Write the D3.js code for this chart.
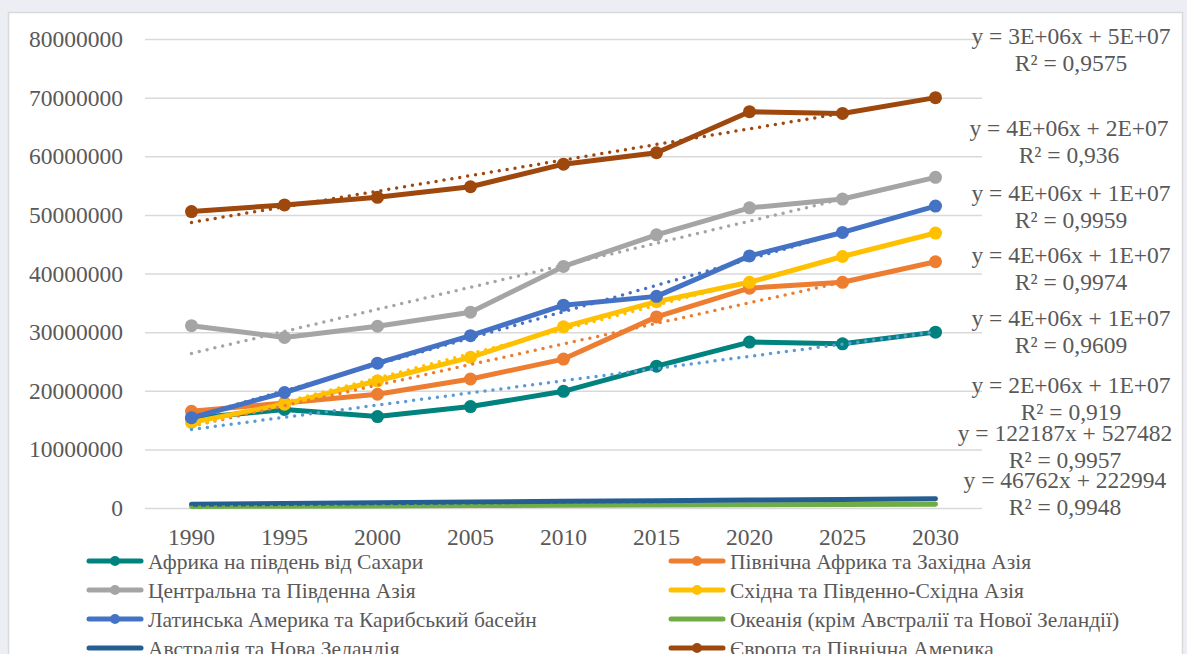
<!DOCTYPE html>
<html>
<head>
<meta charset="utf-8">
<script src="https://cdnjs.cloudflare.com/ajax/libs/d3/7.8.5/d3.min.js"></script>
<style>
  body { margin: 0; background: #eceef3; }
</style>
</head>
<body>
<script>
//Data
var years = ["1990", "1995", "2000", "2005", "2010", "2015", "2020", "2025", "2030"];

var seriesNames = [
  "Африка на південь від Сахари",
  "Північна Африка та Західна Азія",
  "Центральна та Південна Азія",
  "Східна та Південно-Східна Азія",
  "Латинська Америка та Карибський басейн",
  "Океанія (крім Австралії та Нової Зеландії)",
  "Австралія та Нова Зеландія",
  "Європа та Північна Америка"
];

var subSaharan   = [15300000, 16800000, 15600000, 17300000, 19900000, 24200000, 28300000, 28000000, 30000000];
var northAfrica  = [16500000, 17900000, 19400000, 22000000, 25400000, 32600000, 37500000, 38500000, 42000000];
var centralAsia  = [31100000, 29100000, 31000000, 33400000, 41200000, 46600000, 51200000, 52700000, 56400000];
var eastAsia     = [14600000, 17700000, 21700000, 25700000, 30900000, 35200000, 38500000, 42900000, 46900000];
var latinAmerica = [15400000, 19700000, 24700000, 29400000, 34600000, 36100000, 43000000, 47000000, 51500000];
var oceania      = [270000, 310000, 360000, 410000, 460000, 500000, 550000, 600000, 650000];
var australiaNZ  = [660000, 760000, 880000, 1020000, 1140000, 1240000, 1360000, 1470000, 1580000];
var europe       = [50560000, 51700000, 53000000, 54800000, 58650000, 60600000, 67600000, 67300000, 70000000];

var yTicks = [0, 10000000, 20000000, 30000000, 40000000, 50000000, 60000000, 70000000, 80000000];

//Trendline labels as printed on the chart
var trendEquations = [
  "y = 2E+06x + 1E+07", "y = 4E+06x + 1E+07", "y = 4E+06x + 2E+07", "y = 4E+06x + 1E+07",
  "y = 4E+06x + 1E+07", "y = 46762x + 222994", "y = 122187x + 527482", "y = 3E+06x + 5E+07"
];
var trendR2 = ["R² = 0,919", "R² = 0,9609", "R² = 0,936", "R² = 0,9974",
  "R² = 0,9959", "R² = 0,9948", "R² = 0,9957", "R² = 0,9575"];

var colors = ["#00827f", "#ed7d31", "#a5a5a5", "#ffc000", "#4472c4", "#70ad47", "#255e91", "#9e480e"];
var trendColors = ["#5b9bd5", "#ed7d31", "#a5a5a5", "#ffc000", "#4472c4", "#70ad47", "#255e91", "#9e480e"];
var hasMarkers = [true, true, true, true, true, false, false, true];

var allValues = [subSaharan, northAfrica, centralAsia, eastAsia, latinAmerica, oceania, australiaNZ, europe];

var series = seriesNames.map(function(name, i) {
  return {name: name, values: allValues[i], color: colors[i], trend: trendColors[i], markers: hasMarkers[i]};
});

var serif = "'Liberation Serif', 'Times New Roman', 'DejaVu Serif', serif";
var width = 1187, height = 654;

var svg = d3.select("body")
    .append("svg")
    .attr("width", width)
    .attr("height", height)
    .attr("font-family", serif);

//Chart card
svg.append("rect")
    .attr("x", 8.5)
    .attr("y", 12.5)
    .attr("width", 1174)
    .attr("height", 680)
    .style("fill", "#ffffff")
    .style("stroke", "#d9d9d9")
    .style("stroke-width", 1.5);

var xScale = d3.scaleBand()
    .domain(years)
    .range([145, 982])
    .padding(0);

var yScale = d3.scaleLinear()
    .domain([0, 80000000])
    .range([508, 39]);

function cx(i) { return xScale(years[i]) + xScale.bandwidth() / 2; }

//Grid lines + y labels
var yAxis = d3.axisLeft(yScale)
    .tickValues(yTicks)
    .tickSize(-(982 - 145))
    .tickPadding(22)
    .tickFormat(d3.format("d"));

var gy = svg.append("g")
    .attr("transform", "translate(145,0)")
    .call(yAxis)
    .attr("font-family", serif);
gy.select(".domain").remove();
gy.selectAll(".tick line").style("stroke", "#d9d9d9").style("stroke-width", 1.5);
gy.selectAll(".tick text").style("font-size", "23.5px").style("fill", "#595959").style("font-family", serif);

//X labels
var xAxis = d3.axisBottom(xScale).tickSize(0).tickPadding(20);
var gx = svg.append("g")
    .attr("transform", "translate(0,508)")
    .call(xAxis)
    .attr("font-family", serif);
gx.select(".domain").remove();
gx.selectAll(".tick text").style("font-size", "23.5px").style("fill", "#595959").style("font-family", serif);

var line = d3.line()
    .x(function(d, i) { return cx(i); })
    .y(function(d) { return yScale(d); });

//Series lines and markers
series.forEach(function(s) {
  svg.append("path")
      .datum(s.values)
      .attr("d", line)
      .style("fill", "none")
      .style("stroke", s.color)
      .style("stroke-width", 5)
      .style("stroke-linejoin", "round")
      .style("stroke-linecap", "round");

  if (s.markers) {
    svg.selectAll(null)
        .data(s.values)
        .enter()
        .append("circle")
        .attr("cx", function(d, i) { return cx(i); })
        .attr("cy", function(d) { return yScale(d); })
        .attr("r", 6.5)
        .style("fill", s.color);
  }
});

//Linear trendlines (least squares, x = 1..n)
function fit(vals) {
  var n = vals.length, sx = 0, sy = 0, sxy = 0, sxx = 0;
  vals.forEach(function(v, i) {
    var x = i + 1;
    sx += x; sy += v; sxy += x * v; sxx += x * x;
  });
  var slope = (n * sxy - sx * sy) / (n * sxx - sx * sx);
  var icpt = (sy - slope * sx) / n;
  return {slope: slope, icpt: icpt};
}

series.forEach(function(s) {
  var f = fit(s.values);
  var n = s.values.length;
  svg.append("line")
      .attr("x1", cx(0))
      .attr("y1", yScale(f.slope * 1 + f.icpt))
      .attr("x2", cx(n - 1))
      .attr("y2", yScale(f.slope * n + f.icpt))
      .style("stroke", s.trend)
      .style("stroke-width", 3.5)
      .style("stroke-linecap", "round")
      .style("stroke-dasharray", "0 8");
});

//Trendline equation labels
var labelX = [1071, 1071, 1069, 1071, 1071, 1065, 1065, 1071];
var labelY = [393, 326, 136, 263, 201, 488, 441, 44];

series.forEach(function(s, i) {
  var t = svg.append("text")
      .attr("x", labelX[i])
      .attr("y", labelY[i])
      .style("text-anchor", "middle")
      .style("font-family", serif)
      .style("font-size", "23.5px")
      .style("fill", "#595959");
  t.append("tspan").attr("x", labelX[i]).attr("dy", 0).text(trendEquations[i]);
  t.append("tspan").attr("x", labelX[i]).attr("dy", 27).text(trendR2[i]);
});

//Legend
var legend = svg.append("g");
series.forEach(function(s, i) {
  var col = i % 2, row = Math.floor(i / 2);
  var lx = col === 0 ? 87 : 669;
  var ly = 561 + row * 29;
  legend.append("line")
      .attr("x1", lx + 2).attr("x2", lx + 54)
      .attr("y1", ly).attr("y2", ly)
      .style("stroke", s.color)
      .style("stroke-width", 5)
      .style("stroke-linecap", "round");
  if (s.markers) {
    legend.append("circle")
        .attr("cx", lx + 28).attr("cy", ly)
        .attr("r", 5)
        .style("fill", s.color);
  }
  legend.append("text")
      .attr("x", lx + 61)
      .attr("y", ly)
      .attr("dy", "0.35em")
      .style("font-family", serif)
      .style("font-size", "21.5px")
      .style("fill", "#595959")
      .text(s.name);
});
</script>
</body>
</html>
